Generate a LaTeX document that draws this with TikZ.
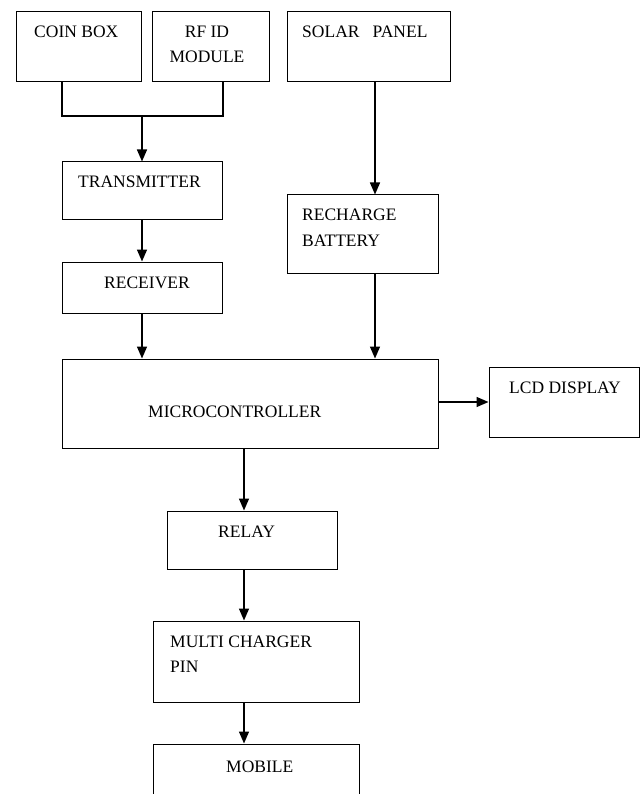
\documentclass[tikz,border=0pt]{standalone}
\usepackage{fontspec}
\setmainfont{Liberation Serif}
\usetikzlibrary{arrows.meta}

\tikzset{
  box/.style 2 args={draw=black, line width=1pt, minimum width=#1, minimum height=#2, inner sep=0pt},
  arr/.style={line width=1.4pt, -{Triangle[length=12pt, width=10pt]}},
  txt/.style={anchor=base west, inner sep=0pt, font=\fontsize{17.5}{25}\selectfont}
}

\begin{document}
\begin{tikzpicture}[x=1pt, y=-1pt]

% page size
\clip (0, 0) rectangle (641, 794);

% draw boxes
\node[box={125pt}{70pt}] (coin) at (78.5, 47) {};
\node[box={117pt}{70pt}] (rfid) at (210.5, 47) {};
\node[box={163pt}{70pt}] (solar) at (368.5, 47) {};
\node[box={160pt}{58pt}] (trans) at (142, 191) {};
\node[box={160pt}{51pt}] (recv) at (142, 287.5) {};
\node[box={151pt}{78pt}] (rech) at (362.5, 234) {};
\node[box={376pt}{89pt}] (micro) at (250, 403.5) {};
\node[box={150pt}{70pt}] (lcd) at (564, 402) {};
\node[box={170pt}{58pt}] (relay) at (252, 540) {};
\node[box={206pt}{81pt}] (multi) at (256, 661.5) {};
\node[box={206pt}{70pt}] (mobile) at (256, 779) {};

% joints and columns of the arrows
\coordinate (jl) at (62, 116);
\coordinate (jr) at (223, 116);
\coordinate (scol) at (375, 0);
\coordinate (mcol) at (244, 0);

% draw arrows
\draw[line width=1.3pt] (coin.south -| jl) -- (jl) -- (jr) -- (rfid.south -| jr);
\draw[arr] (trans.north |- jl) -- (trans.north);
\draw[arr] (trans.south) -- (recv.north);
\draw[arr] (recv.south) -- (micro.north -| recv.south);
\draw[arr] (solar.south -| scol) -- (rech.north -| scol);
\draw[arr] (rech.south -| scol) -- (micro.north -| scol);
\draw[arr] (micro.east |- lcd.west) -- (lcd.west);
\draw[arr] (micro.south -| mcol) -- (relay.north -| mcol);
\draw[arr] (relay.south -| mcol) -- (multi.north -| mcol);
\draw[arr] (multi.south -| mcol) -- (mobile.north -| mcol);

% draw labels (two-line labels sit on their last line)
\node[txt] (coinlbl) at (34, 38) {COIN BOX};
\node[txt, anchor=base, align=center] (rfidlbl) at (207, 63) {RF ID\\MODULE};
\node[txt] (solarlbl) at (302, 38) {SOLAR\ \ \ PANEL};
\node[txt] (translbl) at (78, 188) {TRANSMITTER};
\node[txt] (recvlbl) at (104, 288) {RECEIVER};
\node[txt, align=left] (rechlbl) at (302, 246) {RECHARGE\\BATTERY};
\node[txt] (microlbl) at (148, 417) {MICROCONTROLLER};
\node[txt] (lcdlbl) at (509, 393) {LCD DISPLAY};
\node[txt] (relaylbl) at (218, 537) {RELAY};
\node[txt, align=left] (multilbl) at (170, 672) {MULTI CHARGER\\PIN};
\node[txt] (mobilelbl) at (226, 772) {MOBILE};

\end{tikzpicture}
\end{document}
